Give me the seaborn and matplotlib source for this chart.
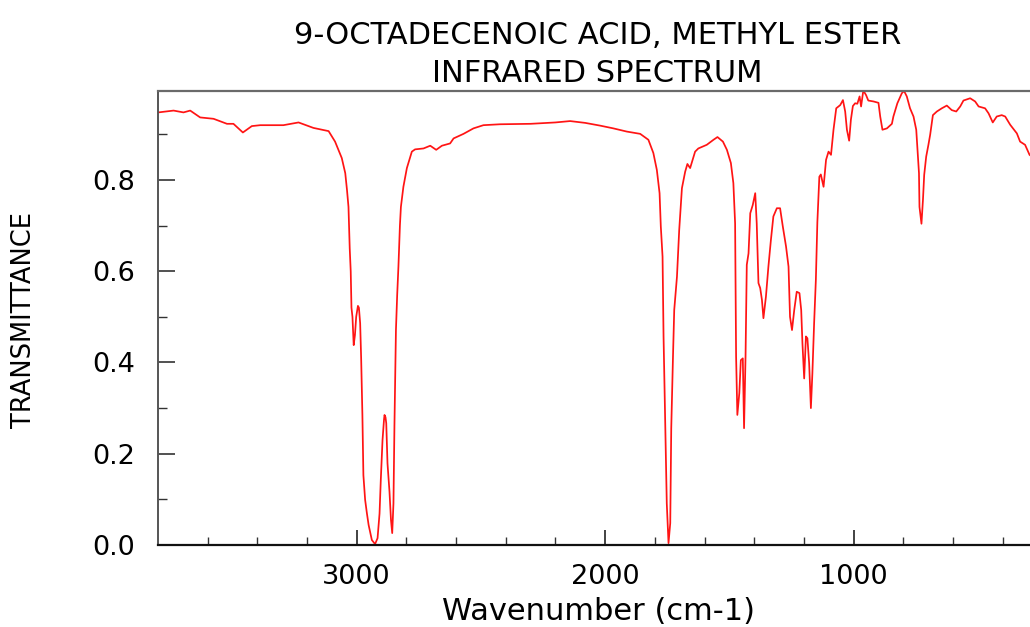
import matplotlib
matplotlib.use("Agg")
import matplotlib.pyplot as plt
import seaborn as sns
import pandas as pd
from matplotlib.ticker import MultipleLocator

# ---- data ----
wavenumber = [3798, 3737, 3697, 3670, 3630, 3576, 3522, 3496, 3458, 3422, 3388, 3295,
              3234, 3174, 3113, 3087, 3060, 3046, 3039, 3033, 3028, 3024, 3021, 3017,
              3012, 3007, 3002, 2995, 2991, 2986, 2982, 2977, 2973, 2966, 2959, 2952,
              2939, 2926, 2916, 2908, 2903, 2896, 2890, 2888, 2884, 2881, 2876, 2868,
              2862, 2857, 2852, 2848, 2842, 2837, 2832, 2826, 2822, 2812, 2798, 2778,
              2765, 2731, 2704, 2680, 2657, 2624, 2610, 2570, 2530, 2490, 2423, 2300,
              2200, 2141, 2080, 2020, 1967, 1913, 1859, 1826, 1806, 1792, 1781, 1776,
              1769, 1765, 1759, 1752, 1745, 1738, 1734, 1727, 1722, 1711, 1702, 1691,
              1678, 1669, 1658, 1638, 1625, 1591, 1564, 1548, 1526, 1510, 1494, 1484,
              1477, 1473, 1468, 1460, 1454, 1446, 1441, 1435, 1430, 1423, 1416, 1406,
              1396, 1390, 1383, 1376, 1369, 1363, 1353, 1343, 1333, 1323, 1309, 1296,
              1285, 1272, 1262, 1256, 1248, 1239, 1229, 1218, 1211, 1206, 1199, 1192,
              1186, 1179, 1172, 1166, 1159, 1152, 1146, 1138, 1132, 1121, 1111, 1101,
              1091, 1081, 1070, 1054, 1043, 1034, 1027, 1018, 1011, 1003, 994, 985,
              976, 970, 961, 950, 941, 920, 900, 893, 884, 866, 846, 840,
              824, 806, 797, 786, 773, 759, 748, 743, 737, 735, 727, 721,
              716, 708, 699, 692, 681, 665, 645, 625, 605, 587, 571, 558,
              531, 511, 497, 471, 457, 440, 424, 404, 390, 370, 343, 330,
              310, 292, 280]
transmittance = [0.948, 0.952, 0.948, 0.952, 0.937, 0.934, 0.923, 0.923, 0.904, 0.918, 0.920, 0.920,
                 0.926, 0.914, 0.907, 0.884, 0.848, 0.815, 0.778, 0.741, 0.650, 0.600, 0.520, 0.500,
                 0.438, 0.460, 0.500, 0.524, 0.520, 0.486, 0.409, 0.285, 0.153, 0.099, 0.070, 0.044,
                 0.011, 0.002, 0.015, 0.069, 0.142, 0.230, 0.275, 0.285, 0.280, 0.267, 0.179, 0.117,
                 0.055, 0.026, 0.091, 0.263, 0.471, 0.548, 0.610, 0.700, 0.741, 0.785, 0.826, 0.862,
                 0.867, 0.869, 0.875, 0.866, 0.875, 0.880, 0.891, 0.901, 0.913, 0.920, 0.922, 0.923,
                 0.926, 0.929, 0.925, 0.919, 0.913, 0.906, 0.901, 0.888, 0.859, 0.822, 0.771, 0.698,
                 0.632, 0.457, 0.289, 0.091, 0.004, 0.048, 0.256, 0.413, 0.515, 0.588, 0.690, 0.782,
                 0.818, 0.835, 0.826, 0.862, 0.869, 0.877, 0.888, 0.894, 0.884, 0.866, 0.837, 0.793,
                 0.705, 0.413, 0.285, 0.333, 0.405, 0.409, 0.256, 0.413, 0.614, 0.639, 0.727, 0.745,
                 0.771, 0.705, 0.574, 0.563, 0.537, 0.497, 0.544, 0.610, 0.668, 0.720, 0.738, 0.738,
                 0.698, 0.654, 0.610, 0.500, 0.471, 0.515, 0.555, 0.552, 0.515, 0.442, 0.365, 0.457,
                 0.453, 0.398, 0.300, 0.376, 0.486, 0.581, 0.707, 0.807, 0.812, 0.785, 0.844, 0.862,
                 0.855, 0.910, 0.957, 0.964, 0.975, 0.950, 0.910, 0.886, 0.932, 0.962, 0.968, 0.967,
                 0.983, 0.961, 0.996, 0.986, 0.974, 0.972, 0.969, 0.939, 0.910, 0.913, 0.923, 0.939,
                 0.968, 0.990, 0.995, 0.983, 0.957, 0.939, 0.910, 0.866, 0.815, 0.741, 0.704, 0.756,
                 0.811, 0.851, 0.877, 0.899, 0.942, 0.950, 0.957, 0.963, 0.953, 0.950, 0.961, 0.974,
                 0.979, 0.972, 0.961, 0.957, 0.946, 0.926, 0.939, 0.942, 0.939, 0.921, 0.902, 0.884,
                 0.877, 0.855, 0.850]
x_major_ticks = [3000, 2000, 1000]
x_tick_labels = ["3000", "2000", "1000"]
y_major_ticks = [0.0, 0.2, 0.4, 0.6, 0.8]
y_tick_labels = ["0.0", "0.2", "0.4", "0.6", "0.8"]
title_lines = ["9-OCTADECENOIC ACID, METHYL ESTER", "INFRARED SPECTRUM"]
x_label = "Wavenumber (cm-1)"
y_label = "TRANSMITTANCE"

df = pd.DataFrame({"wn": wavenumber, "T": transmittance})

sns.set_style("white")
plt.rcParams["font.family"] = ["DejaVu Sans"]
plt.rcParams["text.color"] = "black"
plt.rcParams["axes.labelcolor"] = "black"

W, H = 1030, 627
fig = plt.figure(figsize=(W / 100, H / 100), dpi=100)
ax_l, ax_r, ax_b, ax_t = 158.4, 1037.0, 545.0, 90.5
ax = fig.add_axes([ax_l / W, (H - ax_b) / H, (ax_r - ax_l) / W, (ax_b - ax_t) / H])

sns.lineplot(data=df, x="wn", y="T", ax=ax, color="#ff1414", linewidth=1.25,
             estimator=None, sort=True)

ax.set_xlim(3798, 262)
ax.set_ylim(0, 0.996)

ax.set_xticks(x_major_ticks)
ax.set_xticklabels(x_tick_labels)
ax.xaxis.set_minor_locator(MultipleLocator(200))
ax.set_yticks(y_major_ticks)
ax.set_yticklabels(y_tick_labels)
ax.yaxis.set_minor_locator(MultipleLocator(0.1))

ax.tick_params(axis="x", which="major", direction="in", length=11, width=1.2,
               color="#222222", labelsize=19.5, pad=14, bottom=True, top=False,
               labelcolor="black")
ax.tick_params(axis="x", which="minor", direction="in", length=6, width=1.0,
               color="#333333", bottom=True, top=False)
ax.tick_params(axis="y", which="major", direction="in", length=12, width=1.2,
               color="#333333", labelsize=19.5, pad=17, left=True, right=False,
               labelcolor="black")
ax.tick_params(axis="y", which="minor", direction="in", length=6.5, width=1.0,
               color="#333333", left=True, right=False)

ax.spines["right"].set_visible(False)
ax.spines["top"].set_color("#6a6a6a")
ax.spines["top"].set_linewidth(1.6)
ax.spines["left"].set_color("#555555")
ax.spines["left"].set_linewidth(1.4)
ax.spines["bottom"].set_color("#111111")
ax.spines["bottom"].set_linewidth(1.6)

ax.set_xlabel(x_label, fontsize=22, va="baseline", color="black")
ax.xaxis.set_label_coords((599 - ax_l) / (ax_r - ax_l), (ax_b - 620) / (ax_b - ax_t))
ax.set_ylabel(y_label, fontsize=18.5, va="center", ha="center", color="black")
ax.yaxis.set_label_coords((24 - ax_l) / (ax_r - ax_l), (ax_b - 320) / (ax_b - ax_t))

cx = 597.5 / W
fig.text(cx, (H - 44) / H, title_lines[0], ha="center", va="baseline", fontsize=22, color="black")
fig.text(cx, (H - 81.5) / H, title_lines[1], ha="center", va="baseline", fontsize=22, color="black")

fig.savefig("out.png", dpi=100, facecolor="white")
